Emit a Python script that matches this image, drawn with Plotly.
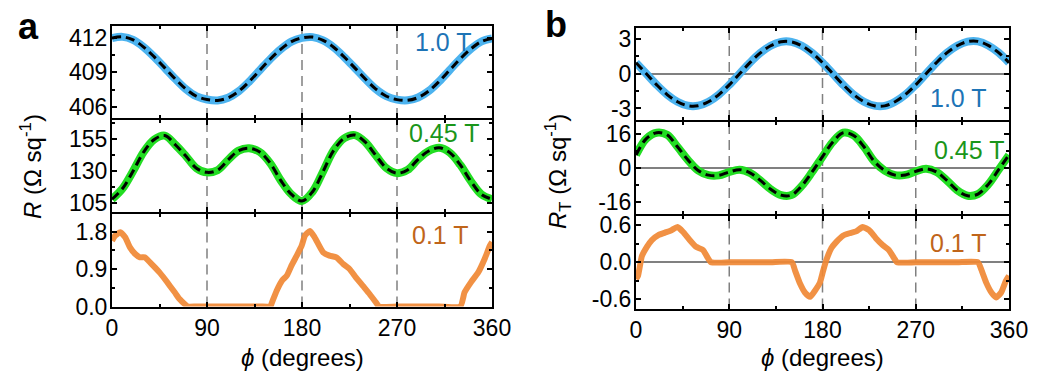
import plotly.graph_objects as go

# ---------------- data ----------------
phi_10 = list(range(0, 361, 10))

# panel a : R (Ohm/sq)
R_10T = [411.95, 412.06, 411.80, 411.18, 410.33, 409.38, 408.42, 407.55, 406.93, 406.65,
         406.57, 406.80, 407.36, 408.20, 409.18, 410.15, 411.00, 411.65, 411.97, 412.04,
         411.76, 411.16, 410.32, 409.38, 408.42, 407.55, 406.93, 406.64, 406.58, 406.82,
         407.38, 408.22, 409.20, 410.17, 411.02, 411.66, 411.92]
R_045T = [107.6, 116.0, 129.7, 144.7, 154.5, 157.6, 150.4, 141.5, 132.0, 128.7,
          130.4, 138.5, 145.8, 147.6, 144.7, 135.8, 122.2, 111.4, 106.2, 113.5,
          129.4, 146.0, 155.5, 158.0, 152.4, 142.0, 132.0, 128.1, 130.6, 139.0,
          145.5, 148.0, 144.2, 134.5, 121.7, 111.4, 107.6]
phi_a_01T = [0, 3, 7.8, 12.5, 17, 22, 26.5, 31, 36, 40.6, 45, 50, 54.7, 59.4, 64, 68.8, 72,
             80, 100, 120, 140, 150, 151.6, 156, 161, 165.6, 170, 175, 179.7, 182.8, 187.5,
             192, 200, 206, 212.5, 219, 225, 231, 237.5, 244, 250, 253, 270, 290, 310, 330,
             334, 340, 347, 353, 358, 360]
R_01T = [1.58, 1.70, 1.78, 1.66, 1.42, 1.26, 1.18, 1.18, 1.06, 0.94, 0.82, 0.66, 0.50, 0.34,
         0.18, 0.06, 0.0, 0.0, 0.0, 0.0, 0.0, 0.0, 0.10, 0.38, 0.62, 0.74, 0.98, 1.22, 1.46,
         1.70, 1.81, 1.66, 1.30, 1.22, 1.18, 1.02, 0.90, 0.70, 0.50, 0.30, 0.10, 0.0, 0.0,
         0.0, 0.0, 0.0, 0.34, 0.58, 0.82, 1.14, 1.46, 1.55]

# panel b : R_T (Ohm/sq)
RT_10T = [0.96, 0.0, -0.96, -1.80, -2.42, -2.76, -2.76, -2.42, -1.80, -0.96,
          0.0, 0.96, 1.80, 2.42, 2.76, 2.76, 2.42, 1.80, 0.96, 0.0,
          -0.96, -1.80, -2.42, -2.76, -2.78, -2.42, -1.80, -0.96, 0.0, 0.96,
          1.80, 2.42, 2.78, 2.80, 2.45, 1.82, 0.96]
RT_045T = [6.2, 14.0, 16.8, 15.8, 10.1, 3.9, -1.2, -3.4, -3.5, -1.9,
           -0.8, -2.3, -5.9, -10.1, -12.9, -12.9, -8.5, -1.9, 5.4, 12.4,
           16.8, 15.5, 10.1, 3.1, -1.2, -3.4, -3.3, -1.6, -0.4, -1.9,
           -5.9, -10.6, -13.2, -12.4, -7.8, -0.8, 6.2]
phi_b_01T = [0, 1.9, 5.7, 10.5, 15.3, 21.6, 28, 34.3, 40, 45.5, 51.8, 58, 64.6, 69.3, 72.5,
             90, 110, 130, 150.4, 153.6, 158.4, 163, 168, 172.7, 177.5, 180.6, 183.8, 188.6,
             193.4, 199.7, 206, 212.5, 218.8, 225, 231.5, 238, 244, 249, 252, 270, 290, 310,
             330, 333.3, 338, 343, 347.6, 352.4, 357, 360]
RT_01T = [-0.27, -0.22, 0.10, 0.25, 0.36, 0.44, 0.48, 0.52, 0.57, 0.49, 0.36, 0.25, 0.20,
          0.07, 0.0, 0.0, 0.0, 0.0, 0.0, -0.14, -0.35, -0.49, -0.56, -0.46, -0.33, -0.14,
          0.04, 0.23, 0.33, 0.43, 0.47, 0.50, 0.57, 0.52, 0.39, 0.28, 0.20, 0.07, 0.0, 0.0,
          0.0, 0.0, 0.0, -0.12, -0.33, -0.49, -0.57, -0.49, -0.30, -0.22]

x_ticks = [0, 90, 180, 270, 360]
x_ticktext = ["0", "90", "180", "270", "360"]
field_labels = ["1.0 T", "0.45 T", "0.1 T"]

ya_ticks = [[406, 409, 412], [105, 130, 155], [0.0, 0.9, 1.8]]
ya_text = [["406", "409", "412"], ["105", "130", "155"], ["0.0", "0.9", "1.8"]]
yb_ticks = [[-3, 0, 3], [-16, 0, 16], [-0.6, 0.0, 0.6]]
yb_text = [["-3", "0", "3"], ["-16", "0", "16"], ["-0.6", "0.0", "0.6"]]

# ---------------- style ----------------
W, H = 1051, 388
FONT = "Arial, Liberation Sans, sans-serif"
band_col = ["#4cb3ef", "#22dd22", "rgba(240,136,52,0.92)"]
text_col = ["#1d74b6", "#1a961a", "#c0651a"]
GRAY = "#808080"

def px_x(p):
    return p / W

def px_y(p):
    return 1 - p / H

# pixel edges of the plot areas (2 px gaps so the 2 px frame lines coincide)
panels = {
    "a": dict(x=(112, 492), rows=[(26, 118), (120, 212), (214, 306.5)],
              ranges=[[405.05, 413.0], [97.55, 169.85], [0.0, 2.22]],
              ticks=ya_ticks, text=ya_text,
              series=[(phi_10, R_10T), (phi_10, R_045T), (phi_a_01T, R_01T)],
              zero=False,
              lab_pos=[(474, 42), (481, 133), (471, 235)]),
    "b": dict(x=(636, 1009), rows=[(27.5, 120), (122, 214), (216, 308.5)],
              ranges=[[-4.0, 4.0], [-21.9, 21.9], [-0.749, 0.749]],
              ticks=yb_ticks, text=yb_text,
              series=[(phi_10, RT_10T), (phi_10, RT_045T), (phi_b_01T, RT_01T)],
              zero=True,
              lab_pos=[(989, 98), (1006, 150), (989, 243)]),
}

fig = go.Figure()
layout = dict(width=W, height=H, margin=dict(l=0, r=0, t=0, b=0, autoexpand=False),
              paper_bgcolor="white", plot_bgcolor="white", showlegend=False,
              font=dict(family=FONT, size=22, color="black"))
shapes, annotations = [], []

idx = 0
for pname, P in panels.items():
    for r in range(3):
        idx += 1
        xa = "xaxis" if idx == 1 else f"xaxis{idx}"
        ya = "yaxis" if idx == 1 else f"yaxis{idx}"
        xr = "x" if idx == 1 else f"x{idx}"
        yr = "y" if idx == 1 else f"y{idx}"
        top, bot = P["rows"][r]
        t = P["ticks"][r]
        step = t[1] - t[0]
        minor_y = [t[0] - step / 2] + [(a + b) / 2 for a, b in zip(t[:-1], t[1:])] + [t[-1] + step / 2]
        layout[xa] = dict(domain=[px_x(P["x"][0]), px_x(P["x"][1])], range=[0, 360], anchor=yr,
                          automargin=False,
                          tickmode="array", tickvals=x_ticks, ticktext=x_ticktext,
                          showticklabels=(r == 2), ticks="inside", ticklen=5, tickwidth=1.5,
                          tickcolor="black", mirror="ticks", showline=True, linecolor="black",
                          linewidth=2, showgrid=False, zeroline=False,
                          tickfont=dict(size=23),
                          minor=dict(tickvals=[(a + b) / 2 for a, b in zip(x_ticks[:-1], x_ticks[1:])],
                                     ticks="inside", ticklen=3, tickwidth=1.5, tickcolor="black",
                                     showgrid=False))
        layout[ya] = dict(domain=[px_y(bot), px_y(top)], range=P["ranges"][r], anchor=xr,
                          automargin=False,
                          tickmode="array", tickvals=t, ticktext=P["text"][r],
                          ticks="inside", ticklen=5, tickwidth=1.5, tickcolor="black",
                          mirror="ticks", showline=True, linecolor="black", linewidth=2,
                          showgrid=False, zeroline=P["zero"], zerolinecolor=GRAY,
                          zerolinewidth=1.5, tickfont=dict(size=23), ticklabelstandoff=-2,
                          minor=dict(tickvals=minor_y, ticks="inside", ticklen=3, tickwidth=1.5,
                                     tickcolor="black", showgrid=False))
        xs, ys = P["series"][r]
        if r < 2:
            fig.add_trace(go.Scatter(x=xs, y=ys, mode="lines", xaxis=xr, yaxis=yr,
                                     line=dict(color=band_col[r], width=8, shape="spline")))
            fig.add_trace(go.Scatter(x=xs, y=ys, mode="lines", xaxis=xr, yaxis=yr,
                                     line=dict(color="black", width=3, dash="9px,5px",
                                               shape="spline")))
        else:
            fig.add_trace(go.Scatter(x=xs, y=ys, mode="lines", xaxis=xr, yaxis=yr,
                                     line=dict(color=band_col[r], width=6, shape="spline",
                                               smoothing=0.5)))
        for v in x_ticks[1:-1]:
            shapes.append(dict(type="line", xref=xr, yref=f"{yr} domain", x0=v, x1=v, y0=0, y1=1,
                               line=dict(color=GRAY, width=1.5, dash="10px,6px"), layer="below"))
        lx, ly = P["lab_pos"][r]
        annotations.append(dict(text=field_labels[r], xref="paper", yref="paper",
                                x=px_x(lx), y=px_y(ly), xanchor="right", yanchor="middle",
                                showarrow=False, font=dict(size=25, color=text_col[r])))
    # x-axis title
    cx = (P["x"][0] + P["x"][1]) / 2
    annotations.append(dict(text="<i>ϕ</i> (degrees)", xref="paper", yref="paper",
                            x=px_x(cx), y=px_y(357), xanchor="center", yanchor="middle",
                            showarrow=False, font=dict(size=24)))

annotations.append(dict(text="<i>R</i> (Ω sq<sup>-1</sup>)", xref="paper", yref="paper",
                        x=px_x(31), y=px_y(167), textangle=-90, xanchor="center",
                        yanchor="middle", showarrow=False, font=dict(size=24)))
annotations.append(dict(text="<i>R</i><sub>T</sub> (Ω sq<sup>-1</sup>)", xref="paper", yref="paper",
                        x=px_x(558), y=px_y(172), textangle=-90, xanchor="center",
                        yanchor="middle", showarrow=False, font=dict(size=24)))
annotations.append(dict(text="<b>a</b>", xref="paper", yref="paper", x=px_x(28), y=px_y(27),
                        xanchor="center", yanchor="middle", showarrow=False, font=dict(size=36)))
annotations.append(dict(text="<b>b</b>", xref="paper", yref="paper", x=px_x(556), y=px_y(25),
                        xanchor="center", yanchor="middle", showarrow=False, font=dict(size=36)))

layout["shapes"] = shapes
layout["annotations"] = annotations
fig.update_layout(**layout)
fig.write_html("out.html", config={"displayModeBar": False},
               post_script="document.body.style.margin='0px';")
